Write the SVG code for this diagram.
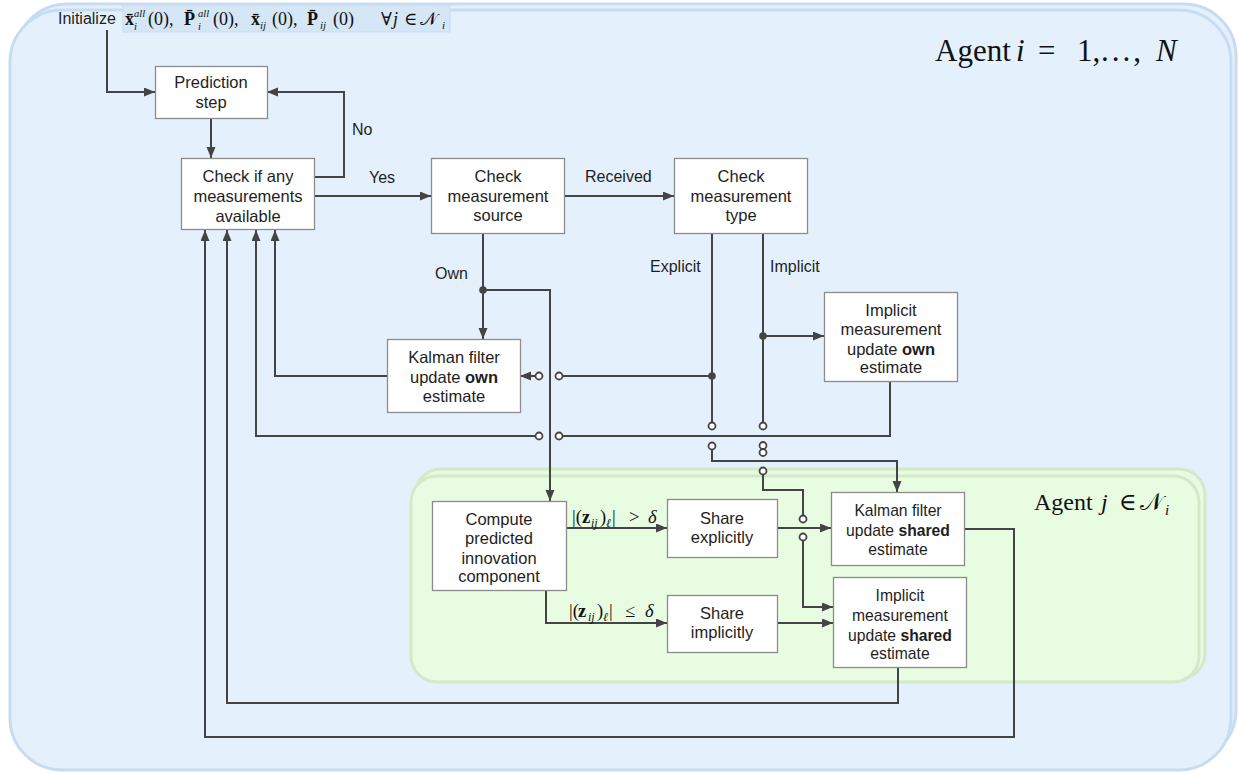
<svg xmlns="http://www.w3.org/2000/svg" width="1239" height="774" viewBox="0 0 1239 774">
  <style>
    .node rect { fill: #ffffff; stroke: #8c8c8c; stroke-width: 1.3; }
    .node text { font-family: "Liberation Sans", Arial, sans-serif; font-size: 16.5px; fill: #1e1e1e; text-anchor: middle; }
    .node text.sm { font-size: 15.7px; }
    .lbl { font-family: "Liberation Sans", Arial, sans-serif; font-size: 16px; fill: #1e1e1e; }
    .math { font-family: "Liberation Serif", "DejaVu Serif", "Times New Roman", serif; fill: #111; }
    .conn path { fill: none; stroke: #444; stroke-width: 2; }
    .dot { fill: #444; }
    .sw { fill: #ffffff; stroke: #444; stroke-width: 1.8; }
    .b { font-weight: bold; }
    .it { font-style: italic; }
  </style>
  <defs>
    <marker id="arr" markerUnits="userSpaceOnUse" markerWidth="12" markerHeight="10" refX="11" refY="4.5" orient="auto">
      <path d="M0,0 L11,4.5 L0,9 z" fill="#444"/>
    </marker>
  </defs>

  <!-- agent i container (stacked cards) -->
  <g id="agent-i">
    <rect x="15" y="4" width="1221" height="758" rx="52" fill="#e3f0fd" stroke="#c8dcf1" stroke-width="3"/>
    <rect x="10" y="10" width="1221" height="760" rx="52" fill="#e4f1fd" stroke="#c8dcf1" stroke-width="3"/>
    <text class="math" font-size="31"><tspan x="935" y="61">Agent</tspan><tspan class="it" x="1016" y="61">i</tspan><tspan x="1038" y="61">=</tspan><tspan x="1077" y="61">1,</tspan><tspan x="1101" y="61" letter-spacing="3">...,</tspan><tspan class="it" x="1156" y="61">N</tspan></text>
  </g>

  <!-- agent j container -->
  <g id="agent-j">
    <rect x="415" y="469" width="790" height="210" rx="26" fill="#e7fbe0" stroke="#d3e9c8" stroke-width="3"/>
    <rect x="411" y="476" width="788" height="206" rx="26" fill="#e8fce1" stroke="#d3e9c8" stroke-width="3"/>
    <text class="math" font-size="24"><tspan x="1034" y="510">Agent</tspan><tspan class="it" x="1101" y="510">j</tspan><tspan x="1119" y="510">∈</tspan><tspan x="1140" y="510">𝒩</tspan><tspan class="it" font-size="15" x="1165" y="515">i</tspan></text>
  </g>

  <!-- initialisation line -->
  <g id="init">
    <text class="lbl" x="58" y="24">Initialize</text>
    <rect x="123" y="5" width="327" height="27" fill="#d5e6f6" stroke="#c9dcef" stroke-width="1"/>
    <text class="math" font-size="18">
      <tspan class="b" x="125" y="25">x̄</tspan><tspan class="it" font-size="10.5" x="134" y="17">all</tspan><tspan class="it" font-size="10.5" x="134" y="30">i</tspan><tspan x="148" y="25">(0),</tspan><tspan class="b" x="184" y="25">P̄</tspan><tspan class="it" font-size="10.5" x="198" y="17">all</tspan><tspan class="it" font-size="10.5" x="198" y="30">i</tspan><tspan x="213" y="25">(0),</tspan><tspan class="b" x="251" y="25">x̄</tspan><tspan class="it" font-size="11" x="260" y="29">ij</tspan><tspan x="272" y="25">(0),</tspan><tspan class="b" x="307" y="25">P̄</tspan><tspan class="it" font-size="11" x="320" y="29">ij</tspan><tspan x="333" y="25">(0)</tspan><tspan x="381" y="25">∀</tspan><tspan class="it" x="393" y="25">j</tspan><tspan x="404" y="25">∈</tspan><tspan x="420" y="25">𝒩</tspan><tspan class="it" font-size="11" x="442" y="29">i</tspan>
    </text>
  </g>

  <!-- connectors -->
  <g id="connectors" class="conn">
    <path d="M107,30 V92 H155" marker-end="url(#arr)"/>
    <path d="M211,119 V158" marker-end="url(#arr)"/>
    <path d="M314,177 H344 V92 H267" marker-end="url(#arr)"/>
    <path d="M314,196 H431" marker-end="url(#arr)"/>
    <path d="M564,196 H674" marker-end="url(#arr)"/>
    <path d="M483,234 V339" marker-end="url(#arr)"/>
    <path d="M483,290 H550 V501" marker-end="url(#arr)"/>
    <path d="M712,234 V422.5"/>
    <path d="M763,234 V422.5"/>
    <path d="M712,376 H562.5"/>
    <path d="M535.5,376 H520" marker-end="url(#arr)"/>
    <path d="M763,336 H824" marker-end="url(#arr)"/>
    <path d="M890,381 V436 H562.5"/>
    <path d="M535.5,436 H256 V230" marker-end="url(#arr)"/>
    <path d="M387,376 H275 V230" marker-end="url(#arr)"/>
    <path d="M712,449.5 V461 H897 V492" marker-end="url(#arr)"/>
    <path d="M763,474.5 V490 H803 V515.5"/>
    <path d="M803,540.5 V607 H833" marker-end="url(#arr)"/>
    <path d="M777,528 H831" marker-end="url(#arr)"/>
    <path d="M566,528 H667" marker-end="url(#arr)"/>
    <path d="M546,590 V623 H667" marker-end="url(#arr)"/>
    <path d="M777,623 H833" marker-end="url(#arr)"/>
    <path d="M964,529 H1014 V737 H205 V230" marker-end="url(#arr)"/>
    <path d="M898,667 V703 H227 V230" marker-end="url(#arr)"/>

    <circle class="dot" cx="483" cy="290" r="3.8"/>
    <circle class="dot" cx="712" cy="376" r="3.8"/>
    <circle class="dot" cx="763" cy="336" r="3.8"/>

    <circle class="sw" cx="559" cy="376" r="3.5"/>
    <circle class="sw" cx="539" cy="376" r="3.5"/>
    <circle class="sw" cx="559" cy="436" r="3.5"/>
    <circle class="sw" cx="539" cy="436" r="3.5"/>
    <circle class="sw" cx="712" cy="426" r="3.5"/>
    <circle class="sw" cx="763" cy="426" r="3.5"/>
    <circle class="sw" cx="712" cy="446" r="3.5"/>
    <circle class="sw" cx="763" cy="445.5" r="3.5"/>
    <circle class="sw" cx="763" cy="452.5" r="3.5"/>
    <circle class="sw" cx="763" cy="471" r="3.5"/>
    <circle class="sw" cx="803" cy="519" r="3.5"/>
    <circle class="sw" cx="803" cy="537" r="3.5"/>

    <text class="lbl" x="352" y="135">No</text>
    <text class="lbl" x="369" y="183">Yes</text>
    <text class="lbl" x="585" y="182">Received</text>
    <text class="lbl" x="435" y="279">Own</text>
    <text class="lbl" x="650" y="272">Explicit</text>
    <text class="lbl" x="770" y="272">Implicit</text>

    <text class="math" font-size="18.5"><tspan x="572" y="523">|(</tspan><tspan class="b" x="582" y="523">z</tspan><tspan class="it" font-size="12" x="591" y="527">ij</tspan><tspan x="600" y="523">)</tspan><tspan class="it" font-size="12" x="606" y="527">ℓ</tspan><tspan x="612" y="523">|</tspan><tspan x="629" y="523">&gt;</tspan><tspan class="it" x="648" y="523">δ</tspan></text>
    <text class="math" font-size="18.5"><tspan x="569" y="617">|(</tspan><tspan class="b" x="578" y="617">z</tspan><tspan class="it" font-size="12" x="588" y="621">ij</tspan><tspan x="597" y="617">)</tspan><tspan class="it" font-size="12" x="603" y="621">ℓ</tspan><tspan x="609" y="617">|</tspan><tspan x="625" y="617">≤</tspan><tspan class="it" x="645" y="617">δ</tspan></text>
  </g>

  <!-- nodes -->
  <g id="prediction" class="node">
    <rect x="155.5" y="66.5" width="112" height="52"/>
    <text x="211" y="88">Prediction</text>
    <text x="211" y="108">step</text>
  </g>
  <g id="check-available" class="node">
    <rect x="181.5" y="158.5" width="133" height="71"/>
    <text x="248" y="182">Check if any</text>
    <text x="248" y="202">measurements</text>
    <text x="248" y="222">available</text>
  </g>
  <g id="check-source" class="node">
    <rect x="431.5" y="158.5" width="133" height="75"/>
    <text x="498" y="182">Check</text>
    <text x="498" y="202">measurement</text>
    <text x="498" y="221">source</text>
  </g>
  <g id="check-type" class="node">
    <rect x="674.5" y="158.5" width="133" height="75"/>
    <text x="741" y="182">Check</text>
    <text x="741" y="202">measurement</text>
    <text x="741" y="221">type</text>
  </g>
  <g id="kf-own" class="node">
    <rect x="387.5" y="339.5" width="133" height="73"/>
    <text x="454" y="363">Kalman filter</text>
    <text x="454" y="383">update <tspan class="b">own</tspan></text>
    <text x="454" y="402">estimate</text>
  </g>
  <g id="implicit-own" class="node">
    <rect x="824.5" y="292.5" width="133" height="89"/>
    <text x="891" y="316">Implicit</text>
    <text x="891" y="335">measurement</text>
    <text x="891" y="355">update <tspan class="b">own</tspan></text>
    <text x="891" y="373">estimate</text>
  </g>
  <g id="compute-innovation" class="node">
    <rect x="432.5" y="501.5" width="134" height="89"/>
    <text x="499" y="525">Compute</text>
    <text x="499" y="544">predicted</text>
    <text x="499" y="564">innovation</text>
    <text x="499" y="582">component</text>
  </g>
  <g id="share-explicit" class="node">
    <rect x="667.5" y="499.5" width="110" height="58"/>
    <text x="722" y="524">Share</text>
    <text x="722" y="543">explicitly</text>
  </g>
  <g id="share-implicit" class="node">
    <rect x="667.5" y="595.5" width="110" height="57"/>
    <text x="722" y="619">Share</text>
    <text x="722" y="638">implicitly</text>
  </g>
  <g id="kf-shared" class="node">
    <rect x="831.5" y="492.5" width="133" height="73"/>
    <text class="sm" x="898" y="516">Kalman filter</text>
    <text class="sm" x="898" y="536">update <tspan class="b">shared</tspan></text>
    <text class="sm" x="898" y="555">estimate</text>
  </g>
  <g id="implicit-shared" class="node">
    <rect x="833.5" y="577.5" width="133" height="90"/>
    <text class="sm" x="900" y="601">Implicit</text>
    <text class="sm" x="900" y="621">measurement</text>
    <text class="sm" x="900" y="641">update <tspan class="b">shared</tspan></text>
    <text class="sm" x="900" y="659">estimate</text>
  </g>
</svg>
